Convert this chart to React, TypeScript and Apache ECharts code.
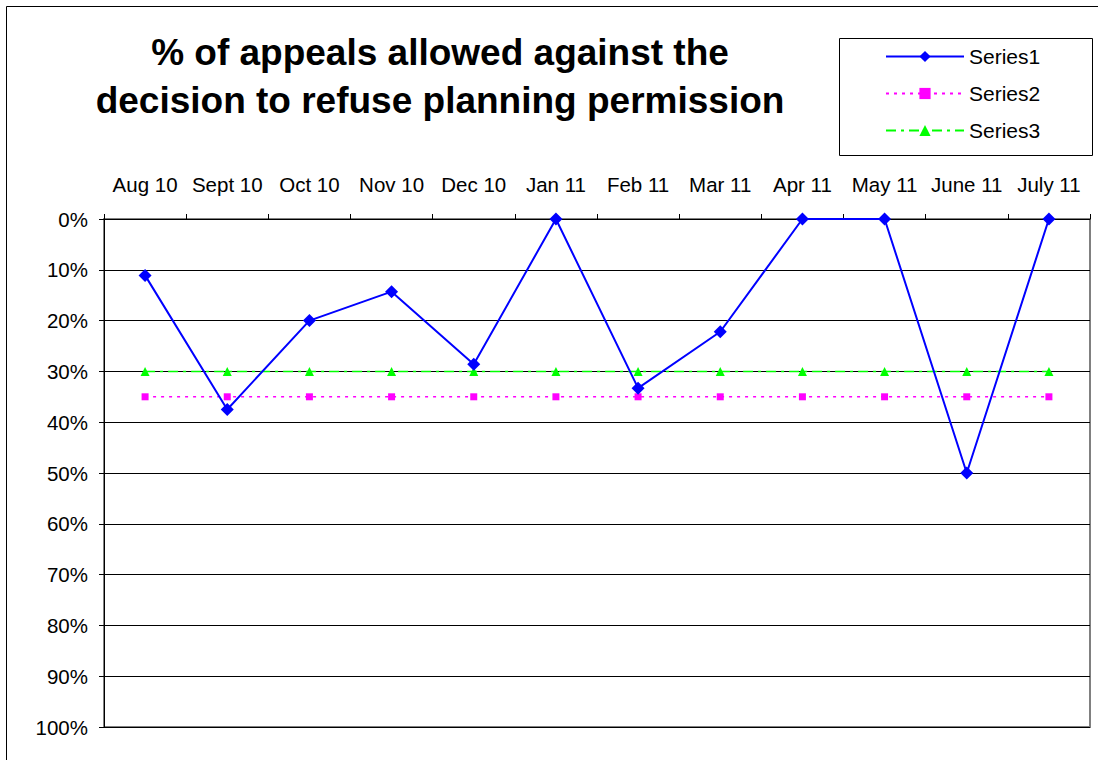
import React, { useEffect, useRef } from "react";
import * as echarts from "echarts";

const categories = ["Aug 10", "Sept 10", "Oct 10", "Nov 10", "Dec 10", "Jan 11", "Feb 11", "Mar 11", "Apr 11", "May 11", "June 11", "July 11"];
const series1 = [0.111, 0.375, 0.2, 0.143, 0.286, 0, 0.333, 0.222, 0, 0, 0.5, 0];
const series2 = [0.35, 0.35, 0.35, 0.35, 0.35, 0.35, 0.35, 0.35, 0.35, 0.35, 0.35, 0.35];
const series3 = [0.3, 0.3, 0.3, 0.3, 0.3, 0.3, 0.3, 0.3, 0.3, 0.3, 0.3, 0.3];
const titleText = "% of appeals allowed against the\ndecision to refuse planning permission";

const FONT = "'Liberation Sans', Arial, sans-serif";

export default function App() {
  const ref = useRef<HTMLDivElement>(null);
  useEffect(() => {
    const chart = echarts.init(ref.current!, null, { renderer: "svg" });
    chart.setOption({
      animation: false,
      backgroundColor: "#ffffff",
      textStyle: { fontFamily: FONT, color: "#000" },
      title: {
        text: titleText,
        left: 440,
        textAlign: "center",
        top: 28,
        padding: 0,
        textStyle: { fontFamily: FONT, fontSize: 37, fontWeight: "bold", color: "#000", lineHeight: 48 },
      },
      legend: {
        orient: "vertical",
        left: 880,
        top: 41,
        itemWidth: 78,
        itemHeight: 14,
        itemGap: 16,
        textStyle: { fontFamily: FONT, fontSize: 21, color: "#000" },
        data: ["Series1", "Series2", "Series3"],
      },
      graphic: [
        { type: "rect", shape: { x: 6.5, y: 6.5, width: 1100, height: 800 }, style: { fill: "none", stroke: "#000", lineWidth: 1 }, z: -10 },
        { type: "rect", shape: { x: 839.5, y: 38.5, width: 253, height: 117 }, style: { fill: "none", stroke: "#000", lineWidth: 1 } },
      ],
      grid: {
        left: 104,
        top: 219,
        width: 986,
        height: 508,
        show: true,
        borderColor: "#808080",
        borderWidth: 2,
        backgroundColor: "#fff",
      },
      xAxis: {
        type: "category",
        position: "top",
        data: categories,
        boundaryGap: true,
        axisLine: { lineStyle: { color: "#000", width: 1 } },
        axisTick: { show: true, length: 5, lineStyle: { color: "#000" } },
        axisLabel: { interval: 0, fontSize: 20.5, color: "#000", fontFamily: FONT, margin: 24 },
        splitLine: { show: false },
      },
      yAxis: {
        type: "value",
        inverse: true,
        min: 0,
        max: 1,
        interval: 0.1,
        axisLine: { show: true, lineStyle: { color: "#000", width: 1 } },
        axisTick: { show: true, length: 5, lineStyle: { color: "#000" } },
        axisLabel: {
          fontSize: 20.5,
          color: "#000",
          fontFamily: FONT,
          margin: 16,
          formatter: (v: number) => Math.round(v * 100) + "%",
        },
        splitLine: { show: true, lineStyle: { color: "#000", width: 1 } },
      },
      series: [
        {
          name: "Series1",
          type: "line",
          data: series1,
          symbol: "diamond",
          symbolSize: 13,
          itemStyle: { color: "#0000ff" },
          lineStyle: { color: "#0000ff", width: 2 },
          z: 5,
        },
        {
          name: "Series2",
          type: "line",
          data: series2,
          symbol: "rect",
          symbolSize: 7,
          itemStyle: { color: "#ff00ff" },
          lineStyle: { color: "#ff00ff", width: 1.5, type: [3, 5] },
          z: 3,
        },
        {
          name: "Series3",
          type: "line",
          data: series3,
          symbol: "triangle",
          symbolSize: 9,
          itemStyle: { color: "#00ff00" },
          lineStyle: { color: "#00ff00", width: 1.5, type: [10, 5, 3, 5] },
          z: 4,
        },
      ],
    });
    return () => chart.dispose();
  }, []);
  return <div ref={ref} style={{ position: "absolute", left: 0, top: 0, width: 1098, height: 760 }} />;
}
